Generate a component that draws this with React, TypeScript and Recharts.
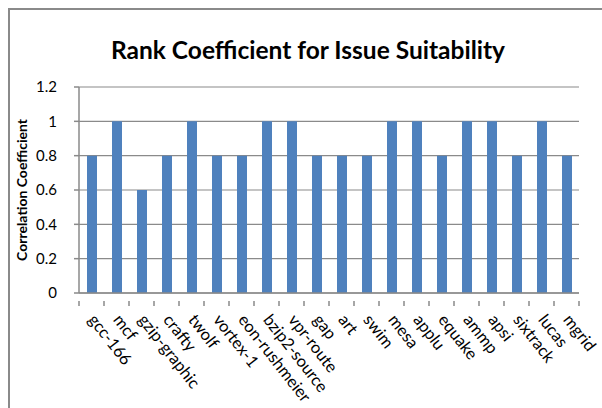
import React from 'react';
import { BarChart, Bar, XAxis, YAxis, CartesianGrid } from 'recharts';

const benchmarks = [
  'gcc-166', 'mcf', 'gzip-graphic', 'crafty', 'twolf', 'vortex-1', 'eon-rushmeier',
  'bzip2-source', 'vpr-route', 'gap', 'art', 'swim', 'mesa', 'applu', 'equake',
  'ammp', 'apsi', 'sixtrack', 'lucas', 'mgrid',
];
const coefficients = [
  0.8, 1, 0.6, 0.8, 1, 0.8, 0.8, 1, 1, 0.8, 0.8, 0.8, 1, 1, 0.8, 1, 1, 0.8, 1, 0.8,
];
const yTicks = [0, 0.2, 0.4, 0.6, 0.8, 1, 1.2];

const data = benchmarks.map((name, i) => ({ name, value: coefficients[i] }));

const FONT = 'Lato, "Open Sans", sans-serif';
const GRAY = '#8a8a8a';
const CHART_W = 592;
const CHART_H = 398;
const MARGIN = { top: 77, right: 23, left: 0, bottom: 15 };
const Y_AXIS_W = 69;
const halfBand = (CHART_W - MARGIN.left - MARGIN.right - Y_AXIS_W) / benchmarks.length / 2;

const CategoryTick = (props: any) => {
  const { x, y, payload, index } = props;
  const last = index === benchmarks.length - 1;
  return (
    <g transform={`translate(${x},${y})`}>
      <line x1={-halfBand} y1={0} x2={-halfBand} y2={5} stroke={GRAY} strokeWidth={1.5} />
      {last && <line x1={halfBand} y1={0} x2={halfBand} y2={5} stroke={GRAY} strokeWidth={1.5} />}
      <text
        transform={`translate(-4,19) rotate(52)`}
        textAnchor="start"
        fontFamily={FONT}
        fontSize={16.5}
        fill="#000"
      >
        {payload.value}
      </text>
    </g>
  );
};

export default function App() {
  return (
    <div
      style={{
        position: 'fixed',
        left: 8,
        top: 8,
        width: 594,
        height: 400,
        borderLeft: `2px solid ${GRAY}`,
        borderTop: `2px solid ${GRAY}`,
        background: '#fff',
      }}
    >
      <div
        style={{
          position: 'absolute',
          left: -2,
          top: 28,
          width: 600,
          textAlign: 'center',
          fontFamily: FONT,
          fontWeight: 700,
          fontSize: 24.5,
          lineHeight: '24px',
          color: '#000',
        }}
      >
        Rank Coefficient for Issue Suitability
      </div>
      <div style={{ position: 'absolute', left: 0, top: 0 }}>
        <BarChart width={CHART_W} height={CHART_H} data={data} margin={MARGIN} barSize={10}>
          <CartesianGrid vertical={false} stroke={GRAY} strokeWidth={1.2} />
          <XAxis
            dataKey="name"
            interval={0}
            height={100}
            tickLine={false}
            axisLine={{ stroke: GRAY, strokeWidth: 1.5 }}
            tick={<CategoryTick />}
          />
          <YAxis
            width={Y_AXIS_W}
            domain={[0, 1.2]}
            ticks={yTicks}
            interval={0}
            tickSize={5}
            tickMargin={17}
            axisLine={{ stroke: GRAY, strokeWidth: 1.5 }}
            tickLine={{ stroke: GRAY, strokeWidth: 1.5 }}
            tick={{ fill: '#000', fontFamily: FONT, fontSize: 15 }}
            label={{
              value: 'Correlation Coefficient',
              angle: -90,
              position: 'center',
              dx: -22.5,
              style: { fontFamily: FONT, fontWeight: 700, fontSize: 14, fill: '#000' },
            }}
          />
          <Bar dataKey="value" fill="#4F81BD" isAnimationActive={false} />
        </BarChart>
      </div>
    </div>
  );
}
